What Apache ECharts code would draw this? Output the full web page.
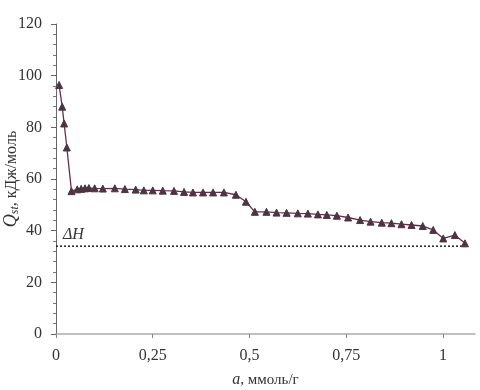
<!DOCTYPE html>
<html><head><meta charset="utf-8">
<script src="https://cdn.jsdelivr.net/npm/echarts@6/dist/echarts.min.js"></script>
<style>html,body{margin:0;padding:0;background:#fff}#c{width:480px;height:390px}</style>
</head><body><div id="c"></div>
<script>
var aValues = [0.008,0.016,0.021,0.028,0.040,0.055,0.065,0.075,0.085,0.100,0.121,0.152,0.178,0.206,0.227,0.250,0.276,0.305,0.331,0.354,0.380,0.406,0.434,0.465,0.491,0.514,0.544,0.570,0.596,0.625,0.651,0.677,0.700,0.726,0.755,0.786,0.813,0.842,0.867,0.893,0.919,0.948,0.975,1.001,1.031,1.057];
var qValues = [96.4,88.0,81.5,72.2,55.3,56.0,56.2,56.4,56.5,56.4,56.3,56.4,56.1,55.9,55.6,55.6,55.5,55.4,55.0,54.8,54.8,54.8,54.8,53.9,51.2,47.3,47.3,47.0,46.9,46.7,46.6,46.3,46.1,45.8,45.1,44.1,43.5,43.1,42.9,42.5,42.2,41.8,40.3,37.0,38.3,35.1];
var deltaH = 34;
var deltaHRange = [0, 1.057];
var xTicks = [0, 0.25, 0.5, 0.75, 1];

var serif = '"Liberation Serif", "DejaVu Serif", serif';
var pts = aValues.map(function(a, i){ return [a, qValues[i]]; });
var chart = echarts.init(document.getElementById('c'));
chart.setOption({
  animation: false,
  backgroundColor: '#fff',
  grid: {left: 56, right: 5, top: 24, bottom: 56, containLabel: false, outerBoundsMode: 'none'},
  xAxis: {
    type: 'value', min: 0, max: 1.083,
    name: '{i|a}{n|, ммоль/г}', nameLocation: 'middle', nameGap: 38, nameMoveOverlap: false,
    nameTextStyle: {rich: {
      i: {fontFamily: serif, fontStyle: 'italic', fontSize: 16, color: '#333'},
      n: {fontFamily: serif, fontSize: 15, color: '#333'}
    }},
    axisLine: {lineStyle: {color: '#aaa', width: 1.5}},
    axisTick: {show: true, customValues: xTicks, length: 4, inside: false, lineStyle: {color: '#888'}},
    axisLabel: {customValues: xTicks, fontFamily: serif, fontSize: 16, color: '#333', margin: 14,
      formatter: function(v){ return String(v).replace('.', ','); }},
    splitLine: {show: false}
  },
  yAxis: {
    type: 'value', min: 0, max: 120, interval: 20,
    name: '{q|Q}{s|st}{n|, кДж/моль}', nameLocation: 'middle', nameGap: 35, nameMoveOverlap: false,
    nameTextStyle: {rich: {
      q: {fontFamily: serif, fontStyle: 'italic', fontSize: 18, color: '#333'},
      s: {fontFamily: serif, fontStyle: 'italic', fontSize: 12, color: '#333', verticalAlign: 'bottom', padding: [7,0,0,0]},
      n: {fontFamily: serif, fontSize: 16, color: '#333'}
    }},
    axisLine: {show: true, lineStyle: {color: '#666', width: 1}},
    axisTick: {show: true, length: 5, lineStyle: {color: '#666'}},
    minorTick: {show: true, splitNumber: 5, length: 3, lineStyle: {color: '#777'}},
    axisLabel: {fontFamily: serif, fontSize: 16, color: '#333', margin: 14},
    splitLine: {show: false}
  },
  series: [
    {
      type: 'line', data: [[deltaHRange[0], deltaH], [deltaHRange[1], deltaH]],
      symbol: 'none', silent: true,
      lineStyle: {color: '#222', width: 1.5, type: [2, 2]},
      markPoint: {
        symbol: 'circle', symbolSize: 0,
        data: [{coord: [0.045, 38.5]}],
        label: {show: true, position: 'inside', formatter: 'ΔH',
          fontFamily: serif, fontStyle: 'italic', fontSize: 16, color: '#333'}
      }
    },
    {
      type: 'line', data: pts,
      symbol: 'triangle', symbolSize: 7, showAllSymbol: true,
      lineStyle: {color: '#6b2c48', width: 1.3},
      itemStyle: {color: '#4d3443', borderColor: '#4d3443'}
    }
  ]
});
</script></body></html>
